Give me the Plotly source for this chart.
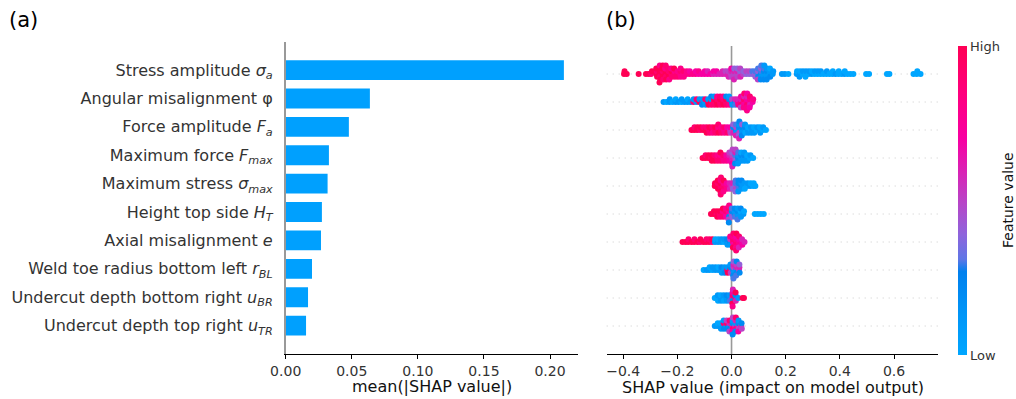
import math
import plotly.graph_objects as go

W, H = 1016, 399

# ---------------- data ----------------
features = [
    "Stress amplitude <i>σ</i><sub><i>a</i></sub>",
    "Angular misalignment φ",
    "Force amplitude <i>F</i><sub><i>a</i></sub>",
    "Maximum force <i>F</i><sub><i>max</i></sub>",
    "Maximum stress <i>σ</i><sub><i>max</i></sub>",
    "Height top side <i>H</i><sub><i>T</i></sub>",
    "Axial misalignment <i>e</i>",
    "Weld toe radius bottom left <i>r</i><sub><i>BL</i></sub>",
    "Undercut depth bottom right <i>u</i><sub><i>BR</i></sub>",
    "Undercut depth top right <i>u</i><sub><i>TR</i></sub>",
]
mean_abs_shap = [0.2105, 0.0637, 0.0478, 0.0327, 0.0317, 0.0274, 0.0267, 0.0199, 0.0169, 0.0154]

bar_ticks = [0.0, 0.05, 0.10, 0.15, 0.20]
bar_ticktext = ["0.00", "0.05", "0.10", "0.15", "0.20"]
swarm_ticks = [-0.4, -0.2, 0.0, 0.2, 0.4, 0.6]
swarm_ticktext = ["\u22120.4", "\u22120.2", "0.0", "0.2", "0.4", "0.6"]

# (SHAP value in thousandths, feature value on a 0..10 scale)
sv_stress_amp = [
    (-397, 10), (-395, 10), (-387, 10), (-343, 10),
    (-316, 10), (-306, 10), (-297, 9), (-294, 10),
    (-277, 10), (-276, 9), (-275, 10), (-278, 10),
    (-266, 10), (-265, 10), (-264, 9), (-267, 10), (-263, 10), (-265, 8), (-266, 10),
    (-255, 10), (-254, 9), (-253, 10), (-256, 10), (-252, 9), (-254, 10),
    (-244, 10), (-243, 10), (-242, 9), (-245, 8), (-241, 10), (-243, 9),
    (-233, 10), (-232, 9), (-231, 10), (-234, 9), (-230, 8),
    (-222, 9), (-221, 10), (-220, 9), (-223, 8),
    (-211, 9), (-210, 8), (-209, 9), (-212, 10),
    (-200, 9), (-199, 8), (-198, 9),
    (-189, 8), (-188, 9), (-187, 8), (-188, 8),
    (-178, 8), (-177, 9), (-176, 8),
    (-166, 8), (-165, 8), (-155, 8), (-154, 7), (-144, 8), (-133, 8), (-132, 7),
    (-122, 7), (-121, 8), (-111, 7), (-100, 7), (-99, 7), (-89, 7), (-88, 6),
    (-78, 7), (-67, 6), (-66, 7), (-56, 6), (-55, 7), (-45, 6), (-34, 6), (-33, 6),
    (-23, 6), (-22, 5),
    (-13, 6), (-12, 5), (-11, 6),
    (-2, 5), (-1, 6), (0, 5), (-1, 7),
    (9, 5), (10, 6), (11, 5), (10, 4), (9, 6),
    (20, 5), (21, 6), (22, 5), (21, 4),
    (31, 5), (32, 4), (33, 6), (32, 5),
    (43, 5), (44, 4),
    (54, 4), (55, 5), (65, 4), (66, 5), (76, 4), (77, 3),
    (86, 4), (87, 3), (88, 4),
    (97, 3), (98, 4), (99, 2), (98, 3), (97, 5),
    (108, 2), (109, 3), (110, 1), (109, 4), (108, 2), (110, 3),
    (119, 1), (120, 2), (121, 1), (120, 3), (119, 2), (121, 1),
    (130, 1), (131, 2), (132, 1), (131, 1), (130, 2),
    (141, 1), (142, 1), (143, 2), (142, 0),
    (152, 1), (154, 1),
    (186, 1), (197, 1), (210, 0),
    (241, 1), (242, 0), (252, 1), (253, 0), (251, 1), (263, 0), (264, 1),
    (274, 0), (275, 1), (273, 0), (285, 0), (286, 1), (296, 1), (297, 0),
    (307, 0), (308, 1), (318, 0), (319, 1),
    (329, 0), (330, 1), (340, 0), (351, 0), (352, 1), (362, 0), (373, 0), (374, 0),
    (384, 1), (395, 0), (396, 0), (406, 0), (417, 1), (418, 0), (428, 0), (439, 0), (450, 0),
    (497, 0), (508, 0), (574, 0), (583, 0), (672, 0), (684, 0), (686, 0), (698, 0),
]
sv_ang_mis = [
    (-251, 1), (-240, 0), (-229, 1), (-228, 1), (-218, 0), (-207, 1), (-206, 0),
    (-196, 1), (-185, 0), (-184, 1), (-174, 1), (-163, 1), (-162, 0), (-152, 1),
    (-141, 9), (-140, 1), (-130, 1), (-129, 9), (-119, 10), (-118, 1),
    (-108, 9), (-107, 1), (-109, 2),
    (-98, 1), (-97, 9), (-96, 1),
    (-87, 9), (-86, 1), (-85, 10),
    (-76, 10), (-75, 1), (-74, 9), (-75, 2),
    (-65, 9), (-64, 10), (-63, 9), (-64, 1),
    (-54, 10), (-53, 9), (-52, 10), (-53, 8),
    (-43, 9), (-42, 10), (-41, 9), (-42, 9),
    (-32, 10), (-31, 9), (-30, 10), (-31, 8),
    (-21, 9), (-20, 10), (-19, 9), (-20, 2),
    (-10, 9), (-9, 2), (-8, 8), (-9, 1),
    (1, 2), (2, 5), (3, 1),
    (12, 2), (13, 6), (14, 3),
    (23, 7), (24, 6), (25, 8),
    (34, 8), (35, 6), (36, 9), (35, 7), (34, 5),
    (45, 8), (46, 9), (47, 7), (46, 6), (45, 8), (47, 9),
    (56, 8), (57, 7), (58, 9), (57, 6), (56, 8), (58, 7), (57, 8),
    (67, 7), (68, 8), (69, 6), (68, 9), (67, 7),
    (78, 7), (80, 8),
]
sv_force_amp = [
    (-148, 10), (-138, 10), (-137, 9), (-127, 10), (-126, 10), (-116, 9), (-115, 10),
    (-105, 10), (-104, 9),
    (-94, 10), (-93, 9), (-92, 10),
    (-83, 9), (-82, 10), (-81, 9),
    (-72, 10), (-71, 9), (-70, 8),
    (-61, 9), (-60, 10), (-59, 9),
    (-50, 9), (-49, 8), (-48, 10), (-49, 9),
    (-39, 9), (-38, 8), (-37, 9),
    (-28, 8), (-27, 9), (-26, 8),
    (-17, 8), (-16, 7), (-15, 9),
    (-6, 6), (-5, 7), (-4, 5),
    (5, 5), (6, 2), (7, 6), (6, 4),
    (16, 2), (17, 5), (18, 1), (17, 3), (16, 6),
    (27, 1), (28, 2), (29, 5), (28, 1), (27, 4), (29, 2), (28, 6),
    (38, 1), (39, 2), (40, 1), (39, 4), (38, 2),
    (49, 1), (50, 2), (51, 0), (50, 1),
    (60, 1), (61, 0), (62, 1),
    (71, 0), (72, 1), (73, 1),
    (82, 1), (83, 0), (84, 1),
    (93, 0), (95, 1),
    (104, 1), (105, 0), (106, 1),
    (115, 0), (117, 1),
    (127, 0),
]
sv_force_max = [
    (-107, 10), (-97, 10), (-96, 9), (-86, 10), (-85, 10),
    (-75, 9), (-74, 10), (-73, 10),
    (-64, 10), (-63, 9), (-62, 10),
    (-53, 9), (-52, 8), (-51, 9),
    (-42, 9), (-41, 8), (-40, 9), (-41, 10),
    (-31, 8), (-30, 9), (-29, 8),
    (-20, 8), (-19, 7), (-18, 8),
    (-9, 7), (-8, 6), (-7, 7), (-8, 5),
    (2, 6), (3, 5), (4, 6), (3, 4), (2, 7), (4, 5), (3, 6),
    (13, 5), (14, 3), (15, 4), (14, 6), (13, 2), (15, 5),
    (24, 2), (25, 1), (26, 2), (25, 3), (24, 1),
    (35, 1), (36, 2), (37, 1), (36, 0),
    (46, 1), (47, 2), (48, 1), (47, 1),
    (57, 1), (58, 0), (59, 1),
    (68, 0), (70, 1),
    (80, 0),
]
sv_stress_max = [
    (-62, 10), (-61, 10),
    (-52, 10), (-51, 9), (-50, 10), (-51, 10),
    (-41, 9), (-40, 10), (-39, 9), (-40, 8), (-41, 10), (-39, 9), (-40, 9),
    (-30, 9), (-29, 8), (-28, 9), (-29, 10), (-30, 8),
    (-19, 8), (-18, 7), (-17, 8),
    (-8, 7), (-7, 6), (-6, 6),
    (3, 5), (4, 6), (5, 4),
    (14, 4), (15, 3), (16, 5), (15, 3), (14, 4),
    (25, 3), (26, 2), (27, 3), (26, 2), (25, 1),
    (36, 2), (37, 1), (38, 1), (37, 2),
    (47, 1), (48, 1), (49, 0),
    (58, 0), (60, 1),
    (69, 1), (71, 0),
    (80, 0), (82, 0),
    (88, 0),
]
sv_height_top = [
    (-76, 10), (-66, 10), (-65, 10),
    (-55, 9), (-54, 10), (-53, 10),
    (-44, 9), (-43, 10), (-42, 9),
    (-33, 9), (-32, 8), (-31, 9), (-32, 10),
    (-22, 8), (-21, 9), (-20, 7), (-21, 8),
    (-11, 8), (-10, 7), (-9, 2), (-10, 9), (-11, 5), (-9, 8), (-10, 2),
    (0, 5), (1, 2), (2, 4), (1, 3),
    (11, 2), (12, 1), (13, 3), (12, 2),
    (22, 1), (23, 2), (24, 1), (23, 1), (22, 3),
    (33, 1), (34, 0), (35, 1), (34, 2),
    (44, 1), (46, 0),
    (86, 0), (97, 0), (108, 0), (119, 0),
]
sv_axial_mis = [
    (-181, 10), (-170, 10), (-160, 10), (-159, 9), (-148, 10),
    (-138, 10), (-137, 9), (-126, 10), (-116, 9), (-115, 10),
    (-104, 10), (-94, 10), (-93, 9), (-83, 10), (-82, 9), (-72, 9), (-71, 10),
    (-61, 1), (-60, 0), (-50, 1), (-49, 0), (-39, 1), (-38, 1), (-28, 0), (-27, 1),
    (-17, 1), (-16, 2), (-15, 1),
    (-6, 2), (-5, 5), (-4, 1), (-5, 8),
    (5, 8), (6, 9), (7, 7), (6, 8), (5, 10), (7, 9),
    (16, 9), (17, 8), (18, 9), (17, 7), (16, 8), (18, 10), (17, 9),
    (27, 8), (28, 7), (29, 8), (28, 9), (27, 6),
    (38, 7), (39, 6), (40, 7),
    (48, 6),
]
sv_toe_radius = [
    (-103, 0), (-92, 1), (-82, 1), (-81, 0), (-71, 0), (-70, 1),
    (-60, 1), (-59, 1), (-49, 1), (-48, 0),
    (-38, 1), (-37, 2), (-36, 1),
    (-27, 1), (-26, 1), (-25, 2),
    (-16, 9), (-15, 1), (-14, 10),
    (-5, 9), (-4, 2), (-3, 5), (-4, 1),
    (6, 2), (7, 5), (8, 1), (7, 6), (6, 2), (8, 4), (7, 3),
    (17, 1), (18, 6), (19, 2), (18, 5), (17, 3), (19, 2),
    (28, 5), (29, 6), (30, 2), (29, 4),
]
sv_undercut_br = [
    (-62, 0), (-52, 0), (-51, 1), (-50, 0),
    (-41, 1), (-40, 0), (-39, 1),
    (-30, 1), (-29, 1), (-28, 0),
    (-19, 1), (-18, 2), (-17, 1),
    (-8, 2), (-7, 1), (-6, 3),
    (3, 6), (4, 9), (5, 2), (4, 7), (3, 10), (5, 6), (4, 8),
    (14, 9), (15, 2), (16, 6), (15, 10),
    (25, 1),
    (41, 10), (46, 10),
]
sv_undercut_tr = [
    (-62, 1), (-52, 1), (-51, 0),
    (-41, 1), (-40, 0), (-39, 1),
    (-30, 1), (-29, 9), (-28, 2), (-29, 1),
    (-19, 1), (-18, 9), (-17, 2), (-18, 5),
    (-8, 1), (-7, 6), (-6, 2), (-7, 9), (-8, 5),
    (3, 6), (4, 2), (5, 9), (4, 1), (3, 7), (5, 5), (4, 2),
    (14, 5), (15, 1), (16, 8), (15, 6), (14, 2), (16, 9),
    (25, 6), (26, 2), (27, 5), (26, 1), (25, 7),
    (36, 6), (37, 2), (38, 5),
]
swarm_rows = [sv_stress_amp, sv_ang_mis, sv_force_amp, sv_force_max, sv_stress_max,
              sv_height_top, sv_axial_mis, sv_toe_radius, sv_undercut_br, sv_undercut_tr]

# ---------------- styling / layout helpers ----------------
FONT = "DejaVu Sans"
BIN = 11        # bin width for the swarm layout (thousandths of SHAP value)
STEP = 0.1      # vertical offset per stacked layer (row units)

n = len(features)
ypos = [n - 1 - i for i in range(n)]

def swarm_layout(points, row_y):
    xm = [p[0] for p in points]
    lo = min(xm)
    quant = [round((v - lo) / BIN) for v in xm]
    order = sorted(range(len(xm)), key=lambda i: (quant[i], i))
    ys = [0.0] * len(xm)
    layer, last = 0, None
    for i in order:
        if quant[i] != last:
            layer = 0
        ys[i] = row_y + math.ceil(layer / 2) * (1 if layer % 2 else -1) * STEP
        layer += 1
        last = quant[i]
    return [v / 1000 for v in xm], ys, [p[1] for p in points]

all_x, all_y, all_c = [], [], []
for pts, yy in zip(swarm_rows, ypos):
    xs, ys, cs = swarm_layout(pts, yy)
    all_x += xs
    all_y += ys
    all_c += cs

colorscale = [
    [0.00, "rgb(0,166,255)"],
    [0.15, "rgb(0,147,246)"],
    [0.27, "rgb(0,128,238)"],
    [0.31, "rgb(95,118,230)"],
    [0.39, "rgb(142,100,220)"],
    [0.49, "rgb(182,70,200)"],
    [0.59, "rgb(216,36,182)"],
    [0.70, "rgb(248,0,162)"],
    [0.85, "rgb(255,0,125)"],
    [1.00, "rgb(255,0,85)"],
]

def px_x(p):
    return p / W

def px_y(p):
    return 1 - p / H

fig = go.Figure()

fig.add_trace(go.Bar(
    x=mean_abs_shap, y=ypos, orientation="h", width=0.7,
    marker=dict(color="rgb(0,160,254)", line=dict(width=0)),
    xaxis="x", yaxis="y", showlegend=False, hoverinfo="x",
))

fig.add_trace(go.Scatter(
    x=all_x, y=all_y, mode="markers", xaxis="x2", yaxis="y2", showlegend=False,
    marker=dict(size=6, color=all_c, cmin=0, cmax=10, colorscale=colorscale,
                line=dict(width=0), opacity=1,
                showscale=True,
                colorbar=dict(
                    thickness=9, thicknessmode="pixels",
                    len=(355 - 46) / H, lenmode="fraction",
                    x=px_x(958), xanchor="left", xpad=0,
                    y=px_y(200.5), yanchor="middle", ypad=0,
                    outlinewidth=0, tickvals=[0, 10], ticktext=["Low", "High"],
                    ticks="", ticklabelposition="outside",
                    tickfont=dict(family=FONT, size=13, color="#333333"),
                )),
))

shapes = []
for yy in ypos:
    shapes.append(dict(type="line", xref="x2 domain", x0=0, x1=1, yref="y2", y0=yy, y1=yy,
                       line=dict(color="#cccccc", width=1, dash="1px,5px"), layer="below"))
shapes.append(dict(type="line", xref="x2", x0=0, x1=0, yref="y2 domain", y0=0, y1=1,
                   line=dict(color="#999999", width=1.6), layer="below"))

annotations = [
    dict(text="(a)", x=px_x(23), y=px_y(20), xref="paper", yref="paper", showarrow=False,
         xanchor="center", yanchor="middle", font=dict(family=FONT, size=21, color="#000")),
    dict(text="(b)", x=px_x(621), y=px_y(20), xref="paper", yref="paper", showarrow=False,
         xanchor="center", yanchor="middle", font=dict(family=FONT, size=21, color="#000")),
    dict(text="mean(|SHAP value|)", x=px_x(431.9), y=px_y(386), xref="paper", yref="paper",
         showarrow=False, xanchor="center", yanchor="middle",
         font=dict(family=FONT, size=16, color="#111")),
    dict(text="SHAP value (impact on model output)", x=px_x(772.5), y=px_y(387), xref="paper",
         yref="paper", showarrow=False, xanchor="center", yanchor="middle",
         font=dict(family=FONT, size=16, color="#111")),
    dict(text="Feature value", x=px_x(1008), y=px_y(200), xref="paper", yref="paper",
         showarrow=False, textangle=-90, xanchor="center", yanchor="middle",
         font=dict(family=FONT, size=14, color="#111")),
]

fig.update_layout(
    template="none",
    width=W, height=H, autosize=False,
    margin=dict(l=0, r=0, t=0, b=0),
    paper_bgcolor="white", plot_bgcolor="white",
    font=dict(family=FONT, color="#333333"),
    shapes=shapes, annotations=annotations,
    xaxis=dict(domain=[px_x(285.7), px_x(578.3)], range=[0, 0.2214],
               tickvals=bar_ticks, ticktext=bar_ticktext,
               showline=True, linecolor="black", linewidth=1, mirror=False,
               ticks="outside", ticklen=4, tickwidth=1, tickcolor="black",
               tickfont=dict(family=FONT, size=14, color="#333333"),
               showgrid=False, zeroline=False, anchor="y", fixedrange=True),
    yaxis=dict(domain=[px_y(354), px_y(41.7)], range=[-1, n],
               tickvals=ypos, ticktext=features, ticks="", ticklabelstandoff=8,
               tickfont=dict(family=FONT, size=16, color="#333333"),
               showline=True, linecolor="#999999", linewidth=1.6,
               showgrid=False, zeroline=False, anchor="x", fixedrange=True),
    xaxis2=dict(domain=[px_x(606.7), px_x(938.3)], range=[-0.461, 0.7636],
                tickvals=swarm_ticks, ticktext=swarm_ticktext,
                showline=True, linecolor="black", linewidth=1,
                ticks="outside", ticklen=4, tickwidth=1, tickcolor="black",
                tickfont=dict(family=FONT, size=14, color="#333333"),
                showgrid=False, zeroline=False, anchor="y2", fixedrange=True),
    yaxis2=dict(domain=[px_y(354), px_y(46)], range=[-1, n],
                showticklabels=False, ticks="", showline=False,
                showgrid=False, zeroline=False, anchor="x2", fixedrange=True),
)

fig.write_html(
    "out.html",
    config={"displayModeBar": False},
    post_script="document.body.style.margin='0';document.body.style.padding='0';"
                "document.documentElement.style.overflow='hidden';",
)
